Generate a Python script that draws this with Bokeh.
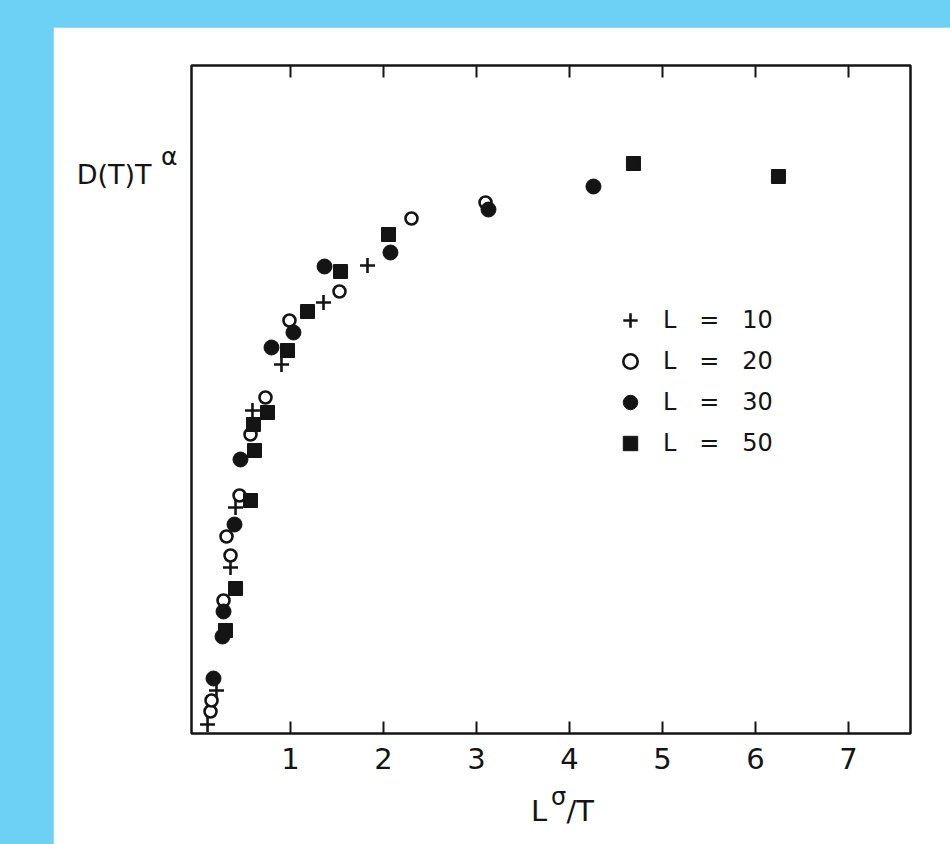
from bokeh.plotting import figure
from bokeh.models import Range1d, LinearAxis, FixedTicker, Legend, LegendItem
from bokeh.embed import file_html
from bokeh.resources import INLINE

# ---- data ----
x_ticks = [1, 2, 3, 4, 5, 6, 7]
x_tick_labels = ["1", "2", "3", "4", "5", "6", "7"]

series_names = ["L = 10", "L = 20", "L = 30", "L = 50"]

l10_x = [0.108, 0.204, 0.355, 0.409, 0.591, 0.903, 1.355, 1.828]
l10_y = [0.09, 0.43, 1.66, 2.26, 3.23, 3.69, 4.31, 4.68]

l20_x = [0.140, 0.151, 0.280, 0.312, 0.355, 0.452, 0.570, 0.731, 0.989, 1.527, 2.301, 3.097]
l20_y = [0.22, 0.33, 1.33, 1.97, 1.78, 2.38, 2.99, 3.36, 4.13, 4.42, 5.15, 5.31]

l30_x = [0.172, 0.269, 0.280, 0.398, 0.462, 0.796, 1.032, 1.366, 2.075, 3.129, 4.258]
l30_y = [0.55, 0.97, 1.22, 2.09, 2.74, 3.86, 4.01, 4.67, 4.81, 5.24, 5.47]

l50_x = [0.301, 0.409, 0.570, 0.613, 0.602, 0.753, 0.968, 1.183, 1.538, 2.054, 4.688, 6.247]
l50_y = [1.03, 1.45, 2.33, 2.83, 3.09, 3.21, 3.83, 4.22, 4.62, 4.99, 5.70, 5.57]

# axis-title pieces (text with super-scripts)
y_title_main, y_title_sup = "D(T)T", "\u03b1"
x_title_main = ["L", "/T"]
x_title_sup = "\u03c3"

INK = "#141414"
FONT = "DejaVu Sans"

p = figure(width=897, height=817, output_backend="svg", toolbar_location=None, tools="",
           x_range=Range1d(-0.0645, 7.667), y_range=Range1d(0, 6.68),
           x_axis_location=None, y_axis_location=None,
           min_border_left=138, min_border_right=40, min_border_top=38, min_border_bottom=111)
p.background_fill_color = "white"
p.border_fill_color = "white"
p.outline_line_color = INK
p.outline_line_width = 2.5
p.grid.visible = False


def text_axis(ticks, texts, size, standoff):
    """An axis with no line / ticks, used only to print text pieces."""
    return LinearAxis(ticker=FixedTicker(ticks=ticks),
                      major_label_overrides={t: s for t, s in zip(ticks, texts)},
                      axis_line_color=None, major_tick_line_color=None, minor_tick_line_color=None,
                      major_tick_in=0, major_tick_out=0,
                      major_label_standoff=standoff, major_label_text_font=FONT,
                      major_label_text_font_size=size, major_label_text_color=INK)


def tick_axis(show_labels):
    ax = LinearAxis(ticker=FixedTicker(ticks=x_ticks),
                    major_label_overrides={t: s for t, s in zip(x_ticks, x_tick_labels)},
                    axis_line_color=None,
                    major_tick_in=12, major_tick_out=0,
                    major_tick_line_width=2, major_tick_line_color=INK,
                    minor_tick_line_color=None)
    if show_labels:
        ax.major_label_standoff = 14
        ax.major_label_text_font_size = "29px"
        ax.major_label_text_font = FONT
        ax.major_label_text_color = INK
    else:
        ax.major_label_standoff = 0
        ax.major_label_text_font_size = "1px"
        ax.major_label_text_color = None
    return ax


# x axes (ticks + numbers below, ticks only above)
p.add_layout(tick_axis(True), "below")
p.add_layout(tick_axis(False), "above")
# x title: superscript sigma, then "L" and "/T"
p.add_layout(text_axis([3.882], [x_title_sup], "24px", 11), "below")
p.add_layout(text_axis([3.672, 4.115], x_title_main, "29px", -20), "below")
# y title: superscript alpha nearest the frame, then "D(T)T"
p.add_layout(text_axis([5.77], [y_title_sup], "25px", 14), "left")
p.add_layout(text_axis([5.595], [y_title_main], "27px", 7), "left")

r10 = p.scatter(l10_x, l10_y, marker="cross", size=15, line_color=INK, line_width=2.6)
r20 = p.scatter(l20_x, l20_y, marker="circle", size=12, fill_color="white", line_color=INK, line_width=2.6)
r30 = p.scatter(l30_x, l30_y, marker="circle", size=15, fill_color=INK, line_color=INK, line_width=1)
r50 = p.scatter(l50_x, l50_y, marker="square", size=14, fill_color=INK, line_color=INK, line_width=1)

nb = "\u00a0"
labels = [s.replace(" = ", nb * 3 + "=" + nb * 3) for s in series_names]
legend = Legend(items=[LegendItem(label=labels[i], renderers=[r]) for i, r in enumerate([r10, r20, r30, r50])],
                location=(421, 272), orientation="vertical",
                glyph_width=36, glyph_height=36, label_height=36, label_width=10,
                label_standoff=15, spacing=5, padding=0, margin=0,
                label_text_font=FONT, label_text_font_size="24px", label_text_color=INK,
                border_line_color=None, background_fill_alpha=0)
p.add_layout(legend)

html = file_html(p, INLINE)
css = "<style>html,body{margin:0;padding:0;background:#6dd1f5;}body{padding:27px 0 0 53px;}</style>"
html = html.replace("</head>", css + "</head>", 1)
open("out.html", "w").write(html)
